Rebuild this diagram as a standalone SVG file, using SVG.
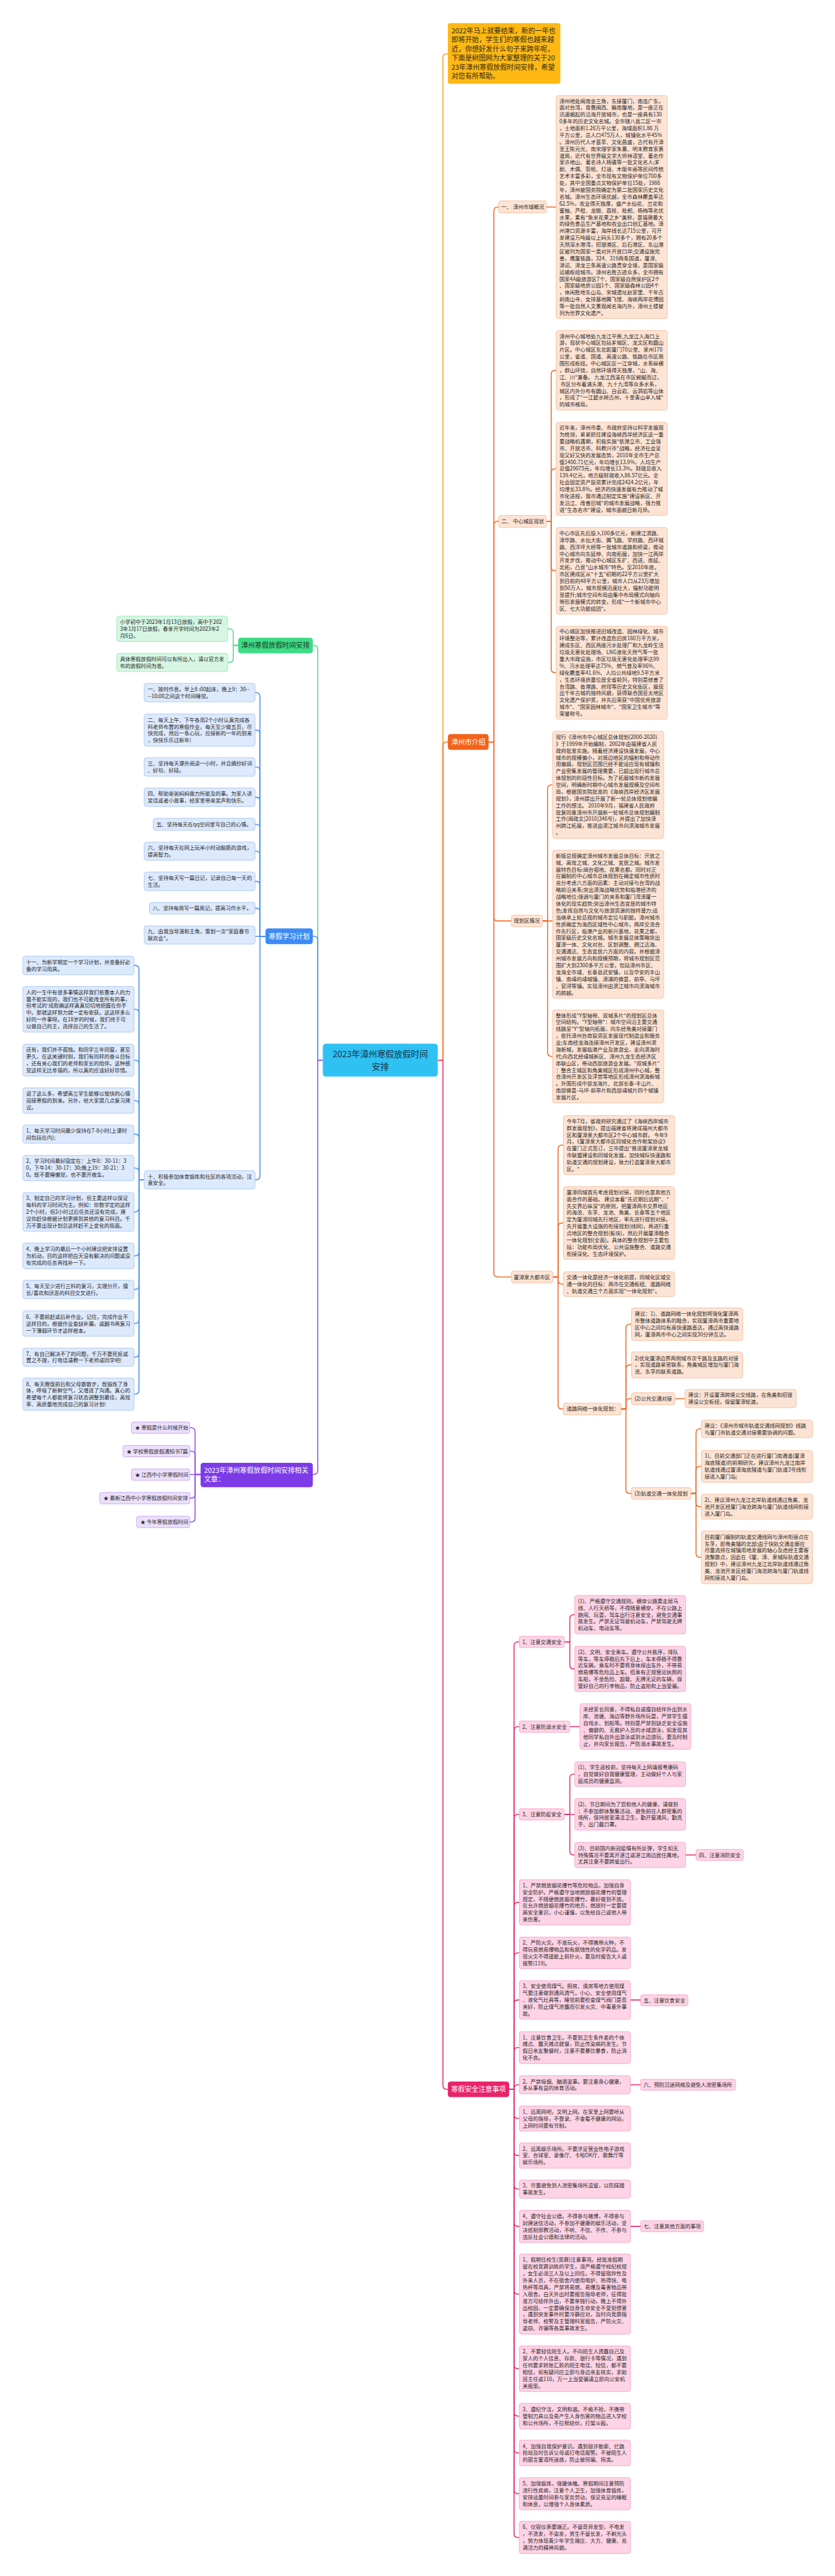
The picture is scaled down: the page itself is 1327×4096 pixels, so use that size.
<svg xmlns="http://www.w3.org/2000/svg" width="1327" height="4096" viewBox="0 0 1327 4096">
<style>
text{font-family:"Noto Sans CJK SC","Liberation Sans",sans-serif;}
.bt{font-size:16px;fill:#262626}
.nt{font-size:16px;fill:#262626}
.wt{font-size:21px;fill:#ffffff}
.bo{fill:#fde3d4;stroke:#f6b591;stroke-width:1.5}
.bp{fill:#fdd3e5;stroke:#f29bc0;stroke-width:1.5}
.bg{fill:#d6f6e3;stroke:#8fe6b2;stroke-width:1.5}
.bb{fill:#dde9fc;stroke:#9cc0f5;stroke-width:1.5}
.bv{fill:#ecdffc;stroke:#bb96f2;stroke-width:1.5}
path{fill:none;stroke-width:3;stroke-linecap:round}
.lA{stroke:#f2a41c}
.lO{stroke:#ee6b25}
.lP{stroke:#e52a6f}
.lG{stroke:#52d88c}
.lB{stroke:#4b8ff0}
.lV{stroke:#8f4bec}
</style>
<rect x="0" y="0" width="1327" height="4096" fill="#ffffff"/>
<g transform="scale(0.51836)">
<g id="connectors">
<path class="lA" d="M1342 3252H1358V177Q1358 165 1370 165H1373"/>
<path class="lO" d="M1342 3252H1358V2288Q1358 2276 1370 2276H1373"/>
<path class="lP" d="M1342 3252H1358V6397Q1358 6409 1370 6409H1373"/>
<path class="lG" d="M990 3252H974V1992Q974 1980 962 1980H959"/>
<path class="lB" d="M990 3252H974V2884Q974 2872 962 2872H959"/>
<path class="lV" d="M990 3252H974V4511Q974 4523 962 4523H959"/>
<path class="lO" d="M1498 2276H1514V647Q1514 635 1526 635H1529"/>
<path class="lO" d="M1498 2276H1514V1611Q1514 1599 1526 1599H1529"/>
<path class="lO" d="M1498 2276H1514V2813Q1514 2825 1526 2825H1568"/>
<path class="lO" d="M1498 2276H1514V3905Q1514 3917 1526 3917H1568"/>
<path class="lO" d="M1675 635H1705"/>
<path class="lO" d="M1675 1599H1690V1148Q1690 1136 1702 1136H1705"/>
<path class="lO" d="M1675 1599H1690V1450Q1690 1438 1702 1438H1705"/>
<path class="lO" d="M1675 1599H1690V1739Q1690 1751 1702 1751H1705"/>
<path class="lO" d="M1675 1599H1690V2051.5Q1690 2063.5 1702 2063.5H1705"/>
<path class="lO" d="M1663 2825H1679V2419.5Q1679 2407.5 1691 2407.5H1694"/>
<path class="lO" d="M1663 2825H1694"/>
<path class="lO" d="M1663 2825H1679V3228.5Q1679 3240.5 1691 3240.5H1694"/>
<path class="lO" d="M1695 3917H1711V3524.5Q1711 3512.5 1723 3512.5H1727"/>
<path class="lO" d="M1695 3917H1711V3763.5Q1711 3751.5 1723 3751.5H1727"/>
<path class="lO" d="M1695 3917H1711V3927Q1711 3939 1723 3939H1727"/>
<path class="lO" d="M1695 3917H1711V4310Q1711 4322 1723 4322H1727"/>
<path class="lO" d="M1904 4322H1919V4074Q1919 4062 1931 4062H1936"/>
<path class="lO" d="M1904 4322H1919V4199Q1919 4187 1931 4187H1936"/>
<path class="lO" d="M1904 4322H1919V4302.5Q1919 4290.5 1931 4290.5H1936"/>
<path class="lO" d="M1904 4322H1919V4569Q1919 4581 1931 4581H1936"/>
<path class="lO" d="M2069 4290.5H2100"/>
<path class="lO" d="M2118 4581H2134V4395Q2134 4383 2146 4383H2150"/>
<path class="lO" d="M2118 4581H2134V4510Q2134 4498 2146 4498H2150"/>
<path class="lO" d="M2118 4581H2134V4609.5Q2134 4621.5 2146 4621.5H2150"/>
<path class="lO" d="M2118 4581H2134V4765Q2134 4777 2146 4777H2150"/>
<path class="lP" d="M1561 6409H1576V5048.5Q1576 5036.5 1588 5036.5H1592"/>
<path class="lP" d="M1561 6409H1576V5308.5Q1576 5296.5 1588 5296.5H1592"/>
<path class="lP" d="M1561 6409H1576V5577.5Q1576 5565.5 1588 5565.5H1592"/>
<path class="lP" d="M1561 6409H1576V5847.5Q1576 5835.5 1588 5835.5H1592"/>
<path class="lP" d="M1561 6409H1576V6002.5Q1576 5990.5 1588 5990.5H1592"/>
<path class="lP" d="M1561 6409H1576V6147Q1576 6135 1588 6135H1592"/>
<path class="lP" d="M1561 6409H1576V6293Q1576 6281 1588 6281H1592"/>
<path class="lP" d="M1561 6409H1576V6407Q1576 6395 1588 6395H1592"/>
<path class="lP" d="M1561 6409H1576V6486.5Q1576 6498.5 1588 6498.5H1592"/>
<path class="lP" d="M1561 6409H1576V6600Q1576 6612 1588 6612H1592"/>
<path class="lP" d="M1561 6409H1576V6703Q1576 6715 1588 6715H1592"/>
<path class="lP" d="M1561 6409H1576V6817.5Q1576 6829.5 1588 6829.5H1592"/>
<path class="lP" d="M1561 6409H1576V7025Q1576 7037 1588 7037H1592"/>
<path class="lP" d="M1561 6409H1576V7254Q1576 7266 1588 7266H1592"/>
<path class="lP" d="M1561 6409H1576V7399.5Q1576 7411.5 1588 7411.5H1592"/>
<path class="lP" d="M1561 6409H1576V7512.5Q1576 7524.5 1588 7524.5H1592"/>
<path class="lP" d="M1561 6409H1576V7637.5Q1576 7649.5 1588 7649.5H1592"/>
<path class="lP" d="M1561 6409H1576V7771.5Q1576 7783.5 1588 7783.5H1592"/>
<path class="lP" d="M1730 5036.5H1747V4965Q1747 4953 1759 4953H1762"/>
<path class="lP" d="M1730 5036.5H1747V5107.5Q1747 5119.5 1759 5119.5H1762"/>
<path class="lP" d="M1747 5296.5H1778"/>
<path class="lP" d="M1730 5565.5H1747V5454Q1747 5442 1759 5442H1762"/>
<path class="lP" d="M1730 5565.5H1762"/>
<path class="lP" d="M1730 5565.5H1747V5678Q1747 5690 1759 5690H1762"/>
<path class="lP" d="M2102 5690H2134"/>
<path class="lP" d="M1933 6135H1964"/>
<path class="lP" d="M1933 6395H1964"/>
<path class="lP" d="M1933 6829.5H1964"/>
<path class="lG" d="M730 1980H715V1941Q715 1929 703 1929H698"/>
<path class="lG" d="M730 1980H715V2020Q715 2032 703 2032H698"/>
<path class="lB" d="M814 2872H797V2136.5Q797 2124.5 785 2124.5H782"/>
<path class="lB" d="M814 2872H797V2251.5Q797 2239.5 785 2239.5H782"/>
<path class="lB" d="M814 2872H797V2364.5Q797 2352.5 785 2352.5H782"/>
<path class="lB" d="M814 2872H797V2457.5Q797 2445.5 785 2445.5H782"/>
<path class="lB" d="M814 2872H797V2540.5Q797 2528.5 785 2528.5H782"/>
<path class="lB" d="M814 2872H797V2623Q797 2611 785 2611H782"/>
<path class="lB" d="M814 2872H797V2715.5Q797 2703.5 785 2703.5H782"/>
<path class="lB" d="M814 2872H797V2798Q797 2786 785 2786H782"/>
<path class="lB" d="M814 2872H782"/>
<path class="lB" d="M814 2872H797V3607Q797 3619 785 3619H782"/>
<path class="lB" d="M442 3619H426V2973.5Q426 2961.5 414 2961.5H411"/>
<path class="lB" d="M442 3619H426V3108Q426 3096 414 3096H411"/>
<path class="lB" d="M442 3619H426V3264Q426 3252 414 3252H411"/>
<path class="lB" d="M442 3619H426V3388Q426 3376 414 3376H411"/>
<path class="lB" d="M442 3619H426V3491Q426 3479 414 3479H411"/>
<path class="lB" d="M442 3619H426V3595Q426 3583 414 3583H411"/>
<path class="lB" d="M442 3619H426V3705.5Q426 3717.5 414 3717.5H411"/>
<path class="lB" d="M442 3619H426V3840.5Q426 3852.5 414 3852.5H411"/>
<path class="lB" d="M442 3619H426V3943.5Q426 3955.5 414 3955.5H411"/>
<path class="lB" d="M442 3619H426V4048Q426 4060 414 4060H411"/>
<path class="lB" d="M442 3619H426V4151Q426 4163 414 4163H411"/>
<path class="lB" d="M442 3619H426V4264.5Q426 4276.5 414 4276.5H411"/>
<path class="lV" d="M615 4523H598V4391.5Q598 4379.5 586 4379.5H582"/>
<path class="lV" d="M615 4523H598V4463.5Q598 4451.5 586 4451.5H582"/>
<path class="lV" d="M615 4523H582"/>
<path class="lV" d="M615 4523H598V4583.5Q598 4595.5 586 4595.5H582"/>
<path class="lV" d="M615 4523H598V4656.5Q598 4668.5 586 4668.5H582"/>
</g>

<g id="central">
<rect x="990" y="3202" width="352" height="100" rx="9" fill="#2fc1f2" stroke="#6fd6f7" stroke-width="2"/>
<text x="1166" y="3242.5" font-size="26" fill="#15324a" text-anchor="middle">2023年漳州寒假放假时间</text>
<text x="1166" y="3281.5" font-size="26" fill="#15324a" text-anchor="middle">安排</text>
</g>

<g id="intro">
<rect x="1373" y="71" width="345" height="186" rx="7" fill="#fdb813"/>
<text font-size="21" fill="#2f2a1a"><tspan x="1384" y="101.5">2022年马上就要结束，新的一年也</tspan><tspan x="1384" dy="28">即将开始，学生们的寒假也越来越</tspan><tspan x="1384" dy="28">近，你想好发什么句子来跨年呢，</tspan><tspan x="1384" dy="28">下面是树图网为大家整理的关于20</tspan><tspan x="1384" dy="28">23年漳州寒假放假时间安排，希望</tspan><tspan x="1384" dy="28">对您有所帮助。</tspan></text>
</g>

<g id="zz-intro">
<rect x="1373" y="2252" width="125" height="48" rx="8" fill="#f4621b"/>
<text class="wt" x="1435.5" y="2283.5" text-anchor="middle">漳州市介绍</text>
</g>

<g id="zz-1">
<rect class="bo" x="1529" y="616" width="146" height="37" rx="6"/>
<text class="nt" x="1537" y="641">一、 漳州市域概况</text>
</g>
<g id="zz-1-t">
<rect class="bo" x="1705" y="293" width="341" height="684" rx="7"/>
<text class="bt"><tspan x="1715" y="315.5">漳州地处闽南金三角，东接厦门，南连广东，</tspan><tspan x="1715" dy="21">面对台湾，背靠闽西、赣南腹地，是一座正在</tspan><tspan x="1715" dy="21">迅速崛起的沿海开放城市，也是一座具有130</tspan><tspan x="1715" dy="21">0多年的历史文化名城。全市辖八县二区一市</tspan><tspan x="1715" dy="21">，土地面积1.26万平公里，海域面积1.86 万</tspan><tspan x="1715" dy="21">平方公里，总人口475万人，城镇化水平45%</tspan><tspan x="1715" dy="21">。漳州历代人才荟萃、文化昌盛，古代有开漳</tspan><tspan x="1715" dy="21">圣王陈元光、南宋理学家朱熹、明末教育家黄</tspan><tspan x="1715" dy="21">道周，近代有世界级文学大师林语堂、著名作</tspan><tspan x="1715" dy="21">家许地山、著名诗人杨骚等一批文化名人;芗</tspan><tspan x="1715" dy="21">剧、木偶、剪纸、灯谜、木版年画等民间传统</tspan><tspan x="1715" dy="21">艺术丰富多彩，全市现有文物保护单位700多</tspan><tspan x="1715" dy="21">处，其中全国重点文物保护单位15处，1986</tspan><tspan x="1715" dy="21">年，漳州被国务院确定为第二批国家历史文化</tspan><tspan x="1715" dy="21">名城。漳州生态环境优越，全市森林覆盖率达</tspan><tspan x="1715" dy="21">62.5%，农业得天独厚，盛产水仙花、兰花和</tspan><tspan x="1715" dy="21">蜜柚、芦柑、龙眼、荔枝、枇杷、杨梅等名优</tspan><tspan x="1715" dy="21">水果，素有"鱼米花果之乡"美称，是福建最大</tspan><tspan x="1715" dy="21">的绿色食品生产基地和农业出口创汇基地。漳</tspan><tspan x="1715" dy="21">州港口资源丰富，海岸线长达715公里，可开</tspan><tspan x="1715" dy="21">发建设万吨级以上码头130多个，拥有20多个</tspan><tspan x="1715" dy="21">天然深水港湾，招银港区、后石港区、东山港</tspan><tspan x="1715" dy="21">区被列为国家一类对外开放口岸;交通设施完</tspan><tspan x="1715" dy="21">善，鹰厦铁路，324、319两条国道，厦漳、</tspan><tspan x="1715" dy="21">漳诏、漳龙三条高速公路贯穿全境，是国家级</tspan><tspan x="1715" dy="21">运输枢纽城市。漳州名胜古迹众多，全市拥有</tspan><tspan x="1715" dy="21">国家4A级旅游区7个、国家级自然保护区2个</tspan><tspan x="1715" dy="21">、国家级地质公园1个、国家级森林公园4个</tspan><tspan x="1715" dy="21">，休闲胜地东山岛、宋城遗址赵家堡、千年古</tspan><tspan x="1715" dy="21">刹南山寺、女排基地腾飞馆、海峡两岸花博园</tspan><tspan x="1715" dy="21">等一批自然人文景观闻名海内外，漳州土楼被</tspan><tspan x="1715" dy="21">列为世界文化遗产。</tspan></text>
</g>

<g id="zz-2">
<rect class="bo" x="1529" y="1581" width="146" height="37" rx="6"/>
<text class="nt" x="1537" y="1605">二、 中心城区现状</text>
</g>
<g id="zz-2-a">
<rect class="bo" x="1705" y="1014" width="341" height="244" rx="7"/>
<text class="bt"><tspan x="1715" y="1037">漳州中心城地处九龙江平原,九龙江入海口上</tspan><tspan x="1715" dy="21">游，现状中心城区包括芗城区、龙文区和圆山</tspan><tspan x="1715" dy="21">片区。中心城区东北距厦门70公里、泉州170</tspan><tspan x="1715" dy="21">公里，省道、国道、高速公路、铁路在市区周</tspan><tspan x="1715" dy="21">围形成枢纽。中心城区区一江穿城，水系纵横</tspan><tspan x="1715" dy="21">，群山环绕，自然环境得天独厚，"山、海、</tspan><tspan x="1715" dy="21">江、川"兼备。 九龙江西溪在市区蜿蜒而过，</tspan><tspan x="1715" dy="21"> 市区分布着浦头港、九十九湾等众多水系，</tspan><tspan x="1715" dy="21">城区内外分布有圆山、白云岩、云洞岩等山体</tspan><tspan x="1715" dy="21">，形成了"一江碧水映古州，十里青山半入城"</tspan><tspan x="1715" dy="21">的城市格局。</tspan></text>
</g>
<g id="zz-2-b">
<rect class="bo" x="1705" y="1295" width="341" height="286" rx="7"/>
<text class="bt"><tspan x="1715" y="1318">近年来，漳州市委、市政府坚持以科学发展观</tspan><tspan x="1715" dy="21">为统领，紧紧抓住建设海峡西岸经济区这一重</tspan><tspan x="1715" dy="21">要战略机遇期，积极实施"依港立市、工业强</tspan><tspan x="1715" dy="21">市、开放活市、科教兴市"战略，经济社会呈</tspan><tspan x="1715" dy="21">现又好又快的发展态势，2010年全市生产总</tspan><tspan x="1715" dy="21">值1400.71亿元，年均增长13.9%，人均生产</tspan><tspan x="1715" dy="21">总值29075元，年均增长13.3%。财政总收入</tspan><tspan x="1715" dy="21">139.4亿元，地方级财政收入88.57亿元。全</tspan><tspan x="1715" dy="21">社会固定资产投资累计完成2424.2亿元，年</tspan><tspan x="1715" dy="21">均增长33.8%。经济的快速发展有力推动了城</tspan><tspan x="1715" dy="21">市化进程，我市通过制定实施"建设新区、开</tspan><tspan x="1715" dy="21">发沿江、改善旧城"的城市发展战略，强力推</tspan><tspan x="1715" dy="21">进"生态名市"建设，城市面貌日新月异。</tspan></text>
</g>
<g id="zz-2-c">
<rect class="bo" x="1705" y="1618" width="341" height="266" rx="7"/>
<text class="bt"><tspan x="1715" y="1641.5">中心市区先后投入100多亿元，新建江滨路、</tspan><tspan x="1715" dy="21">漳华路、水仙大街、腾飞路、学府路、西环城</tspan><tspan x="1715" dy="21">路、西洋坪大桥等一批城市道路和桥梁，推动</tspan><tspan x="1715" dy="21">中心城市向东延伸、向南拓展，加快一江两岸</tspan><tspan x="1715" dy="21">开发步伐，推动中心城区东扩、西进、南延、</tspan><tspan x="1715" dy="21">北拓，凸显"山水城市"特色。至2010年底，</tspan><tspan x="1715" dy="21">市区建成区从"十五"初期的22平方公里扩大</tspan><tspan x="1715" dy="21">到目前的48平方公里，城市人口从23万增加</tspan><tspan x="1715" dy="21">到50万人，城市规模迅速壮大，辐射功能明</tspan><tspan x="1715" dy="21">显提升;城市空间布局由集中布局模式向轴向</tspan><tspan x="1715" dy="21">带形发展模式的转变，形成"一个新城市中心</tspan><tspan x="1715" dy="21">区、七大功能组团"。</tspan></text>
</g>
<g id="zz-2-d">
<rect class="bo" x="1705" y="1921" width="341" height="285" rx="7"/>
<text class="bt"><tspan x="1715" y="1943.5">中心城区加快推进旧城改造、园林绿化、城市</tspan><tspan x="1715" dy="21">环境整治等，累计改造危旧房180万平方米，</tspan><tspan x="1715" dy="21">建成东区、西区两座污水处理厂和九龙岭生活</tspan><tspan x="1715" dy="21">垃圾无害化处理场、LNG液化天然气等一批</tspan><tspan x="1715" dy="21">重大市政设施，市区垃圾无害化处理率达99</tspan><tspan x="1715" dy="21">%、污水处理率达75%、燃气普及率96%、</tspan><tspan x="1715" dy="21">绿化覆盖率41.6%、人均公共绿地9.5平方米</tspan><tspan x="1715" dy="21">，生态环境质量位居全省前列，特别是修善了</tspan><tspan x="1715" dy="21">台湾路、香港路、府埕等历史文化街区，展现</tspan><tspan x="1715" dy="21">出千年古城的独特风貌，获得联合国亚太地区</tspan><tspan x="1715" dy="21">文化遗产保护奖，并先后荣获"中国优秀旅游</tspan><tspan x="1715" dy="21">城市"、"国家园林城市"、"国家卫生城市"等</tspan><tspan x="1715" dy="21">荣誉称号。</tspan></text>
</g>

<g id="zz-3">
<rect class="bo" x="1568" y="2807" width="95" height="36" rx="6"/>
<text class="nt" x="1575" y="2831">规划区情况</text>
</g>
<g id="zz-3-a">
<rect class="bo" x="1694" y="2243" width="341" height="329" rx="7"/>
<text class="bt"><tspan x="1704" y="2266.5">现行《漳州市中心城区总体规划(2000-2020)</tspan><tspan x="1704" dy="21">》于1999年开始编制，2002年由福建省人民</tspan><tspan x="1704" dy="21">政府批准实施。随着经济建设快速发展，中心</tspan><tspan x="1704" dy="21">城市的规模偏小，对周边地区的辐射和带动作</tspan><tspan x="1704" dy="21">用偏弱，规划区范围已经不能适应现有城镇和</tspan><tspan x="1704" dy="21">产业密集发展的管理需要，已超出现行城市总</tspan><tspan x="1704" dy="21">体规划的阶段性目标。为了拓展城市新的发展</tspan><tspan x="1704" dy="21">空间，明确新时期中心城市发展规模及空间布</tspan><tspan x="1704" dy="21">局，根据国务院批准的《海峡西岸经济区发展</tspan><tspan x="1704" dy="21">规划》，漳州提出开展了新一轮总体规划修编</tspan><tspan x="1704" dy="21">工作的想法。 2010年9月，福建省人民政府</tspan><tspan x="1704" dy="21">批复同意漳州市开展新一轮城市总体规划编制</tspan><tspan x="1704" dy="21">工作(闽政文[2010]346号)，并提出了加快漳</tspan><tspan x="1704" dy="21">州跨江拓展，推进由滨江城市向滨海城市发展</tspan><tspan x="1704" dy="21">。</tspan></text>
</g>
<g id="zz-3-b">
<rect class="bo" x="1694" y="2608" width="341" height="454" rx="7"/>
<text class="bt"><tspan x="1704" y="2631">新版总规确定漳州城市发展总体目标：开放之</tspan><tspan x="1704" dy="21">城、高效之城、文化之城、宜居之城。城市发</tspan><tspan x="1704" dy="21">展特色目标:闽台祖地、花果名都。同时对正</tspan><tspan x="1704" dy="21">在编制的中心城市总体规划在确定城市性质时</tspan><tspan x="1704" dy="21">充分考虑六方面的因素：主动对接与台湾的战</tspan><tspan x="1704" dy="21">略前沿关系;突出滨海战略优势和临港经济的</tspan><tspan x="1704" dy="21">战略地位;强调与厦门的关系和厦门湾漳厦一</tspan><tspan x="1704" dy="21">体化的现实趋势;突出漳州生态宜居的城市特</tspan><tspan x="1704" dy="21">色;发挥自然与文化与旅游资源的独特潜力;适</tspan><tspan x="1704" dy="21">当继承上轮总规的城市定位与职能。漳州城市</tspan><tspan x="1704" dy="21">性质确定为海西区域性中心城市，两岸交流合</tspan><tspan x="1704" dy="21">作先行区，临港产业的新兴基地，花果之都，</tspan><tspan x="1704" dy="21">国家级历史文化名城。城市发展总体策略突出</tspan><tspan x="1704" dy="21">厦漳一体、文化对台、区划调整、拥江达海、</tspan><tspan x="1704" dy="21">交通通达、生态宜居六方面的内容。并根据漳</tspan><tspan x="1704" dy="21">州城市发展方向和规模预期，将城市规划区范</tspan><tspan x="1704" dy="21">围扩大到2300多平方公里，包括漳州市区、</tspan><tspan x="1704" dy="21">龙海全市域、长泰县武安镇，以及华安的丰山</tspan><tspan x="1704" dy="21">镇、南靖的靖城镇、漳浦的佛昙、前亭、马坪</tspan><tspan x="1704" dy="21">、官浔等镇。实现漳州由滨江城市向滨海城市</tspan><tspan x="1704" dy="21">的跨越。</tspan></text>
</g>
<g id="zz-3-c">
<rect class="bo" x="1694" y="3098" width="341" height="285" rx="7"/>
<text class="bt"><tspan x="1704" y="3120.5">整体形成"Y型轴带、双城多片"的规划区总体</tspan><tspan x="1704" dy="21">空间结构。"Y型轴带"：城市空间沿主要交通</tspan><tspan x="1704" dy="21">线路呈"Y"型轴向拓展，向东经角美对接厦门</tspan><tspan x="1704" dy="21">，依托漳州台商投资区发展现代制造业和服务</tspan><tspan x="1704" dy="21">业;东南经龙海连接漳州开发区，建设漳州滨</tspan><tspan x="1704" dy="21">海新城，发展临港产业及旅游业，走向滨海时</tspan><tspan x="1704" dy="21">代;向西北经靖城新区、漳州九龙生态经济区</tspan><tspan x="1704" dy="21">串联山区，带动西部旅游业发展。"双城多片"</tspan><tspan x="1704" dy="21">：整合主城区和角美城区形成漳州中心城，整</tspan><tspan x="1704" dy="21">合漳州开发区及浮宫等地区形成漳州滨海新城</tspan><tspan x="1704" dy="21">。外围形成中部龙海片、北部长泰-丰山片、</tspan><tspan x="1704" dy="21">南部佛昙-马坪-前亭片和西部靖城片四个城镇</tspan><tspan x="1704" dy="21">发展片区。</tspan></text>
</g>

<g id="zz-4">
<rect class="bo" x="1568" y="3899" width="127" height="36" rx="6"/>
<text class="nt" x="1575" y="3923">厦漳泉大都市区</text>
</g>
<g id="zz-4-a">
<rect class="bo" x="1727" y="3422" width="341" height="181" rx="7"/>
<text class="bt"><tspan x="1737" y="3445">今年7月，省政府研究通过了《海峡西岸城市</tspan><tspan x="1737" dy="21">群发展规划》，提出福建省将建成福州大都市</tspan><tspan x="1737" dy="21">区和厦漳泉大都市区2个中心城市群。 今年9</tspan><tspan x="1737" dy="21">月，《厦漳泉大都市区同城化合作框架协议》</tspan><tspan x="1737" dy="21">在厦门正式签订，三市提出"推进厦漳泉龙城</tspan><tspan x="1737" dy="21">市联盟建设和同城化发展，加快城际快速路和</tspan><tspan x="1737" dy="21">轨道交通的规划建设，致力打造厦漳泉大都市</tspan><tspan x="1737" dy="21">区。"</tspan></text>
</g>
<g id="zz-4-b">
<rect class="bo" x="1727" y="3640" width="341" height="223" rx="7"/>
<text class="bt"><tspan x="1737" y="3663">厦漳同城首先考虑规划对接，同时也是其他方</tspan><tspan x="1737" dy="21">面合作的基础。 建议本着"先近期后远期"、"</tspan><tspan x="1737" dy="21">先交界后纵深"的原则，把厦漳两市交界地区</tspan><tspan x="1737" dy="21">的海沧、东孚、龙池、角美、长泰等五个地区</tspan><tspan x="1737" dy="21">定为厦漳同城先行地区，率先进行规划对接。</tspan><tspan x="1737" dy="21">先开展重大设施的衔接规划(线网)，再进行重</tspan><tspan x="1737" dy="21">点地区的整合规划(板块)，然后开展厦漳融合</tspan><tspan x="1737" dy="21">一体化规划(全面)。具体的整合规划中主要包</tspan><tspan x="1737" dy="21">括：功能布局优化、公共设施整合、道路交通</tspan><tspan x="1737" dy="21">衔接深化、生态环境保护。</tspan></text>
</g>
<g id="zz-4-c">
<rect class="bo" x="1727" y="3901" width="341" height="76" rx="7"/>
<text class="bt"><tspan x="1737" y="3924">交通一体化是经济一体化前提，同城化区域交</tspan><tspan x="1737" dy="21">通一体化的目标：两市在交通枢纽、道路网络</tspan><tspan x="1737" dy="21">、轨道交通三个方面实现"一体化规划"。</tspan></text>
</g>
<g id="zz-4-d">
<rect class="bo" x="1727" y="4304" width="177" height="36" rx="6"/>
<text class="nt" x="1737" y="4328">道路网络一体化规划：</text>
</g>
<g id="zz-4-d1">
<rect class="bo" x="1936" y="4012" width="341" height="100" rx="7"/>
<text class="bt"><tspan x="1946" y="4036.5">建议：1)、道路网络一体化规划将强化厦漳两</tspan><tspan x="1946" dy="21">市整体道路体系的融合，实现厦漳两市重要地</tspan><tspan x="1946" dy="21">区中心之间均有高快速路直达，通过高快速路</tspan><tspan x="1946" dy="21">网，厦漳两市中心之间实现30分钟互达。</tspan></text>
</g>
<g id="zz-4-d2">
<rect class="bo" x="1936" y="4147" width="341" height="80" rx="7"/>
<text class="bt"><tspan x="1946" y="4172">2)优化厦漳边界两侧城市次干路及支路的对接</tspan><tspan x="1946" dy="21">，实现道路紧密联系，角美城区增加与厦门海</tspan><tspan x="1946" dy="21">沧、东孚的联系道路。</tspan></text>
</g>
<g id="zz-4-d3">
<rect class="bo" x="1936" y="4272" width="133" height="37" rx="6"/>
<text class="nt" x="1945" y="4296.5">(2)公共交通对接</text>
</g>
<g id="zz-4-d3a">
<rect class="bo" x="2100" y="4262" width="341" height="56" rx="7"/>
<text class="bt"><tspan x="2110" y="4285.5">建议：开设厦漳跨境公交线路，在角美和招银</tspan><tspan x="2110" dy="21">建设公交枢纽，保留厦漳轮渡。</tspan></text>
</g>
<g id="zz-4-d4">
<rect class="bo" x="1936" y="4563" width="182" height="36" rx="6"/>
<text class="nt" x="1945" y="4587">(3)轨道交通一体化规划</text>
</g>
<g id="zz-4-d4a">
<rect class="bo" x="2150" y="4356" width="341" height="54" rx="7"/>
<text class="bt"><tspan x="2160" y="4378.5">建议：《漳州市城市轨道交通线网规划》线路</tspan><tspan x="2160" dy="21">与厦门市轨道交通对接需要协调的问题。</tspan></text>
</g>
<g id="zz-4-d4b">
<rect class="bo" x="2150" y="4449" width="341" height="98" rx="7"/>
<text class="bt"><tspan x="2160" y="4472.5">1)、目前交通部门正在进行厦门南通道(厦漳</tspan><tspan x="2160" dy="21">海底隧道)的前期研究，建议漳州九龙江南岸</tspan><tspan x="2160" dy="21">轨道线通过厦漳海底隧道与厦门轨道3号线衔</tspan><tspan x="2160" dy="21">接进入厦门岛;</tspan></text>
</g>
<g id="zz-4-d4c">
<rect class="bo" x="2150" y="4583" width="341" height="77" rx="7"/>
<text class="bt"><tspan x="2160" y="4606.5">2)、建议漳州九龙江北岸轨道线通过角美、龙</tspan><tspan x="2160" dy="21">池开发区经厦门海沧跨海与厦门轨道线网衔接</tspan><tspan x="2160" dy="21">进入厦门岛。</tspan></text>
</g>
<g id="zz-4-d4d">
<rect class="bo" x="2150" y="4696" width="341" height="162" rx="7"/>
<text class="bt"><tspan x="2160" y="4720">目前厦门编制的轨道交通线网与漳州衔接点在</tspan><tspan x="2160" dy="21">东孚，即角美镇的北部;由于快轨交通走廊应</tspan><tspan x="2160" dy="21">尽量选择在城镇用地发展的轴心及途经主要客</tspan><tspan x="2160" dy="21">流聚散点，因此在《厦、漳、泉城际轨道交通</tspan><tspan x="2160" dy="21">规划》中，建议漳州九龙江北岸轨道线通过角</tspan><tspan x="2160" dy="21">美、龙池开发区经厦门海沧跨海与厦门轨道线</tspan><tspan x="2160" dy="21">网衔接进入厦门岛。</tspan></text>
</g>

<g id="safety">
<rect x="1373" y="6385" width="188" height="48" rx="8" fill="#e8246b"/>
<text class="wt" x="1467" y="6416.5" text-anchor="middle">寒假安全注意事项</text>
</g>
<g id="sf-1">
<rect class="bp" x="1592" y="5019" width="138" height="35" rx="6"/>
<text class="nt" x="1601" y="5042.5">1、注意交通安全</text>
</g>
<g id="sf-1a">
<rect class="bp" x="1762" y="4894" width="340" height="118" rx="7"/>
<text class="bt"><tspan x="1772" y="4917">(1)、严格遵守交通规则。横穿公路要走斑马</tspan><tspan x="1772" dy="21">线、人行天桥等，不得随意横穿，不在公路上</tspan><tspan x="1772" dy="21">跑闹、玩耍，驾车出行注意安全，避免交通事</tspan><tspan x="1772" dy="21">故发生。严禁无证驾驶机动车，严禁驾驶无牌</tspan><tspan x="1772" dy="21">机动车、电动车等。</tspan></text>
</g>
<g id="sf-1b">
<rect class="bp" x="1762" y="5050" width="340" height="139" rx="7"/>
<text class="bt"><tspan x="1772" y="5073">(2)、文明、安全乘车。遵守公共秩序，排队</tspan><tspan x="1772" dy="21">等车，等车停稳后先下后上，车未停稳不得靠</tspan><tspan x="1772" dy="21">近车辆。乘车时不要将身体探出车外，不带易</tspan><tspan x="1772" dy="21">燃易爆等危险品上车。搭乘有正规营运执照的</tspan><tspan x="1772" dy="21">车船，不坐危险、超载、无牌无证的车辆，保</tspan><tspan x="1772" dy="21">管好自己的行李物品，防止盗抢和上当受骗。</tspan></text>
</g>
<g id="sf-2">
<rect class="bp" x="1592" y="5279" width="155" height="35" rx="6"/>
<text class="nt" x="1601" y="5302.5">2、注意防溺水安全</text>
</g>
<g id="sf-2a">
<rect class="bp" x="1778" y="5226" width="340" height="140" rx="7"/>
<text class="bt"><tspan x="1788" y="5249.5">未经家长同意，不得私自或擅自结伴外出到水</tspan><tspan x="1788" dy="21">库、池塘、海边等野外场所玩耍，严禁学生擅</tspan><tspan x="1788" dy="21">自戏水、划船等。特别是严禁到缺乏安全设施</tspan><tspan x="1788" dy="21">、偏僻的、无救护人员的水域游泳，如发现其</tspan><tspan x="1788" dy="21">他同学私自外出游泳或到水边游玩，要及时制</tspan><tspan x="1788" dy="21">止，并向家长报告，严防溺水事故发生。</tspan></text>
</g>
<g id="sf-3">
<rect class="bp" x="1592" y="5548" width="138" height="35" rx="6"/>
<text class="nt" x="1601" y="5571.5">3、注意防疫安全</text>
</g>
<g id="sf-3a">
<rect class="bp" x="1762" y="5404" width="340" height="76" rx="7"/>
<text class="bt"><tspan x="1772" y="5427">(1)、学生返校前，坚持每天上网填报粤康码</tspan><tspan x="1772" dy="21">，自觉做好自我健康管理，主动做好个人与家</tspan><tspan x="1772" dy="21">庭成员的健康监测。</tspan></text>
</g>
<g id="sf-3b">
<rect class="bp" x="1762" y="5517" width="340" height="97" rx="7"/>
<text class="bt"><tspan x="1772" y="5540">(2)、节日期间为了您和他人的健康，请做到</tspan><tspan x="1772" dy="21">：不参加群体聚集活动、避免前往人群密集的</tspan><tspan x="1772" dy="21">场所，保持居室清洁卫生，勤开窗通风，勤洗</tspan><tspan x="1772" dy="21">手、出门戴口罩。</tspan></text>
</g>
<g id="sf-3c">
<rect class="bp" x="1762" y="5651" width="340" height="78" rx="7"/>
<text class="bt"><tspan x="1772" y="5675">(3)、目前国内新冠疫情有所反弹，学生如无</tspan><tspan x="1772" dy="21">特殊情况不要离开湛江或湛江周边居住属地，</tspan><tspan x="1772" dy="21">尤其注意不要跨省出行。</tspan></text>
</g>
<g id="sf-4">
<rect class="bp" x="2134" y="5673" width="145" height="34" rx="6"/>
<text class="nt" x="2143" y="5696">四、注意消防安全</text>
</g>
<g id="sf-f1">
<rect class="bp" x="1592" y="5766" width="341" height="139" rx="7"/>
<text class="bt"><tspan x="1602" y="5789">1、严禁燃放烟花爆竹等危险物品，加强自身</tspan><tspan x="1602" dy="21">安全防护。严格遵守当地燃放烟花爆竹的管理</tspan><tspan x="1602" dy="21">规定，不随便燃放烟花爆竹，最好做到不放。</tspan><tspan x="1602" dy="21">在允许燃放烟花爆竹的地方，燃放时一定要提</tspan><tspan x="1602" dy="21">高安全意识，小心谨慎，以免给自己或他人带</tspan><tspan x="1602" dy="21">来伤害。</tspan></text>
</g>
<g id="sf-f2">
<rect class="bp" x="1592" y="5942" width="341" height="97" rx="7"/>
<text class="bt"><tspan x="1602" y="5965">2、严防火灾。不准玩火，不得携带火种，不</tspan><tspan x="1602" dy="21">得玩易燃易爆物品和有腐蚀性的化学药品。发</tspan><tspan x="1602" dy="21">现火灾不得逞能上前扑火，要及时报告大人或</tspan><tspan x="1602" dy="21">报警(119)。</tspan></text>
</g>
<g id="sf-f3">
<rect class="bp" x="1592" y="6076" width="341" height="118" rx="7"/>
<text class="bt"><tspan x="1602" y="6099">3、安全使用煤气。厨房、澡房等地方使用煤</tspan><tspan x="1602" dy="21">气要注意做到通风透气，小心、安全使用煤气</tspan><tspan x="1602" dy="21">、液化气灶具等，睡觉前要检查煤气阀门是否</tspan><tspan x="1602" dy="21">关好，防止煤气泄露而引发火灾、中毒意外事</tspan><tspan x="1602" dy="21">故。</tspan></text>
</g>
<g id="sf-5">
<rect class="bp" x="1964" y="6119" width="145" height="34" rx="6"/>
<text class="nt" x="1973" y="6142">五、注意饮食安全</text>
</g>
<g id="sf-f4">
<rect class="bp" x="1592" y="6232" width="341" height="98" rx="7"/>
<text class="bt"><tspan x="1602" y="6255.5">1、注意饮食卫生。不要到卫生条件差的个体</tspan><tspan x="1602" dy="21">摊点、露天摊点就餐，防止传染病的发生。节</tspan><tspan x="1602" dy="21">假日亲友聚餐时，注意不要暴饮暴食，防止消</tspan><tspan x="1602" dy="21">化不良。</tspan></text>
</g>
<g id="sf-f5">
<rect class="bp" x="1592" y="6367" width="341" height="56" rx="7"/>
<text class="bt"><tspan x="1602" y="6390.5">2、严禁吸烟、酗酒滋事。要注意身心健康，</tspan><tspan x="1602" dy="21">多从事有益的体育活动。</tspan></text>
</g>
<g id="sf-6">
<rect class="bp" x="1964" y="6378" width="291" height="34" rx="6"/>
<text class="nt" x="1973" y="6401">六、预防沉迷网络及避免人流密集场所</text>
</g>
<g id="sf-f6">
<rect class="bp" x="1592" y="6460" width="341" height="77" rx="7"/>
<text class="bt"><tspan x="1602" y="6483.5">1、远离网吧，文明上网。在家里上网要听从</tspan><tspan x="1602" dy="21">父母的指导，不登录、不查看不健康的网站，</tspan><tspan x="1602" dy="21">上网时间要有节制。</tspan></text>
</g>
<g id="sf-f7">
<rect class="bp" x="1592" y="6573" width="341" height="78" rx="7"/>
<text class="bt"><tspan x="1602" y="6597">2、远离娱乐场所。不要涉足营业性电子游戏</tspan><tspan x="1602" dy="21">室、台球室、录像厅、卡啦OK厅、歌舞厅等</tspan><tspan x="1602" dy="21">娱乐场所。</tspan></text>
</g>
<g id="sf-f8">
<rect class="bp" x="1592" y="6687" width="341" height="56" rx="7"/>
<text class="bt"><tspan x="1602" y="6710.5">3、尽量避免到人流密集场所逗留，以防踩踏</tspan><tspan x="1602" dy="21">事故发生。</tspan></text>
</g>
<g id="sf-f9">
<rect class="bp" x="1592" y="6780" width="341" height="99" rx="7"/>
<text class="bt"><tspan x="1602" y="6804">4、遵守社会公德。不得参与赌博，不得参与</tspan><tspan x="1602" dy="21">封建迷信活动，不参加不健康的娱乐活动，坚</tspan><tspan x="1602" dy="21">决抵制邪教活动，不听、不信、不传、不参与</tspan><tspan x="1602" dy="21">违反社会公德和法律的活动。</tspan></text>
</g>
<g id="sf-7">
<rect class="bp" x="1964" y="6812" width="193" height="34" rx="6"/>
<text class="nt" x="1973" y="6835">七、注意其他方面的事项</text>
</g>
<g id="sf-f10">
<rect class="bp" x="1592" y="6914" width="341" height="246" rx="7"/>
<text class="bt"><tspan x="1602" y="6938">1、假期住校生(竞赛)注意事项。经批准假期</tspan><tspan x="1602" dy="21">留在校竞赛训练的学生，须严格遵守校纪校规</tspan><tspan x="1602" dy="21">，女生必须三人及以上同住。不得留宿异性及</tspan><tspan x="1602" dy="21">外来人员，不在宿舍内使用电炉、热得快、电</tspan><tspan x="1602" dy="21">热杯等用具，严禁将易燃、易爆及毒害物品带</tspan><tspan x="1602" dy="21">入宿舍。白天外出时要报告指导老师，征得批</tspan><tspan x="1602" dy="21">准方可结伴外出，不要单独行动，晚上不得外</tspan><tspan x="1602" dy="21">出校园，一定要确保自身生命安全不受到侵害</tspan><tspan x="1602" dy="21">，遇到突发事件时要冷静应对，及时向竞赛指</tspan><tspan x="1602" dy="21">导老师、校警及主管理科室报告，严防火灾、</tspan><tspan x="1602" dy="21">盗窃、诈骗等各类事故发生。</tspan></text>
</g>
<g id="sf-f11">
<rect class="bp" x="1592" y="7196" width="341" height="140" rx="7"/>
<text class="bt"><tspan x="1602" y="7219.5">2、不要轻信陌生人。不向陌生人透露自己及</tspan><tspan x="1602" dy="21">家人的个人信息、存款、银行卡等情况，遇到</tspan><tspan x="1602" dy="21">任何要求转账汇款的陌生电话、短信，都不要</tspan><tspan x="1602" dy="21">相信，如有疑问应立即与身边亲友核实，求助</tspan><tspan x="1602" dy="21">班主任或110，万一上当受骗请立即向公安机</tspan><tspan x="1602" dy="21">关报案。</tspan></text>
</g>
<g id="sf-f12">
<rect class="bp" x="1592" y="7372" width="341" height="79" rx="7"/>
<text class="bt"><tspan x="1602" y="7396.5">3、遵纪守法，文明和谐。不偷不抢，不携带</tspan><tspan x="1602" dy="21">管制刀具以及易产生人身伤害的物品进入学校</tspan><tspan x="1602" dy="21">和公共场所，不拉帮结伙，打架斗殴。</tspan></text>
</g>
<g id="sf-f13">
<rect class="bp" x="1592" y="7485" width="341" height="79" rx="7"/>
<text class="bt"><tspan x="1602" y="7509.5">4、加强自我保护意识。遇到敲诈勒索、拦路</tspan><tspan x="1602" dy="21">抢劫及时告诉父母或打电话报警。不被陌生人</tspan><tspan x="1602" dy="21">的甜言蜜语所迷惑，防止被拐骗、拐卖。</tspan></text>
</g>
<g id="sf-f14">
<rect class="bp" x="1592" y="7600" width="341" height="99" rx="7"/>
<text class="bt"><tspan x="1602" y="7624">5、加强锻炼，强健体魄。寒假期间注意预防</tspan><tspan x="1602" dy="21">流行性疾病，注意个人卫生，加强体育锻炼，</tspan><tspan x="1602" dy="21">安排适量时间参与家务劳动，保证充足的睡眠</tspan><tspan x="1602" dy="21">和休息，以增强个人身体素质。</tspan></text>
</g>
<g id="sf-f15">
<rect class="bp" x="1592" y="7734" width="341" height="99" rx="7"/>
<text class="bt"><tspan x="1602" y="7758">6、仪容仪表要端正。不留奇异发型，不电发</tspan><tspan x="1602" dy="21">，不烫发，不染发，男生不留长发，不剃光头</tspan><tspan x="1602" dy="21">，努力体现青少年学生端庄、大方、健康、充</tspan><tspan x="1602" dy="21">满活力的精神风貌。</tspan></text>
</g>

<g id="holiday">
<rect x="730" y="1956" width="229" height="48" rx="8" fill="#3fdc85"/>
<text x="844.5" y="1987.5" font-size="21" fill="#163a24" text-anchor="middle">漳州寒假放假时间安排</text>
</g>
<g id="holiday-1">
<rect class="bg" x="358" y="1890" width="340" height="78" rx="7"/>
<text class="bt"><tspan x="368" y="1914">小学初中于2023年1月13日放假，高中于202</tspan><tspan x="368" dy="21">3年1月17日放假，春季开学时间为2023年2</tspan><tspan x="368" dy="21">月6日。</tspan></text>
</g>
<g id="holiday-2">
<rect class="bg" x="358" y="2004" width="340" height="56" rx="7"/>
<text class="bt"><tspan x="368" y="2027.5">具体寒假放假时间可以有所出入，请以官方发</tspan><tspan x="368" dy="21">布的放假时间为准。</tspan></text>
</g>

<g id="plan">
<rect x="814" y="2848" width="145" height="48" rx="8" fill="#3d8bf5"/>
<text class="wt" x="886.5" y="2879.5" text-anchor="middle">寒假学习计划</text>
</g>
<g id="plan-1">
<rect class="bb" x="442" y="2096" width="340" height="57" rx="7"/>
<text class="bt"><tspan x="453" y="2120">一、按时作息。早上8 :00起床，晚上9：30--</tspan><tspan x="453" dy="21">--10:00之间这个时间睡觉。</tspan></text>
</g>
<g id="plan-2">
<rect class="bb" x="442" y="2190" width="340" height="99" rx="7"/>
<text class="bt"><tspan x="453" y="2214">二、每天上午、下午各用2个小时认真完成各</tspan><tspan x="453" dy="21">科老师布置的寒假作业，每天至少做五页，尽</tspan><tspan x="453" dy="21">快完成，然后一条心玩，应接新的一年的到来</tspan><tspan x="453" dy="21">，快快乐乐过新年!</tspan></text>
</g>
<g id="plan-3">
<rect class="bb" x="442" y="2324" width="340" height="57" rx="7"/>
<text class="bt"><tspan x="453" y="2348">三、坚持每天课外阅读一小时，并且摘抄好词</tspan><tspan x="453" dy="21">、好句、好段。</tspan></text>
</g>
<g id="plan-4">
<rect class="bb" x="442" y="2417" width="340" height="57" rx="7"/>
<text class="bt"><tspan x="453" y="2441">四、帮助爸爸妈妈做力所能及的事。为家人讲</tspan><tspan x="453" dy="21">笑话或者小故事，给家里带来笑声和快乐。</tspan></text>
</g>
<g id="plan-5">
<rect class="bb" x="470" y="2510" width="312" height="37" rx="7"/>
<text class="bt" x="480" y="2534.5">五、坚持每天在qq空间里写自己的心情。</text>
</g>
<g id="plan-6">
<rect class="bb" x="442" y="2583" width="340" height="56" rx="7"/>
<text class="bt"><tspan x="453" y="2606.5">六、坚持每天在网上玩半小时动脑筋的游戏，</tspan><tspan x="453" dy="21">提高智力。</tspan></text>
</g>
<g id="plan-7">
<rect class="bb" x="442" y="2675" width="340" height="57" rx="7"/>
<text class="bt"><tspan x="453" y="2699">七、坚持每天写一篇日记，记录自己每一天的</tspan><tspan x="453" dy="21">生活。</tspan></text>
</g>
<g id="plan-8">
<rect class="bb" x="458" y="2768" width="324" height="36" rx="7"/>
<text class="bt" x="468" y="2792">八、坚持每周写一篇周记，提高习作水平。</text>
</g>
<g id="plan-9">
<rect class="bb" x="442" y="2840" width="340" height="56" rx="7"/>
<text class="bt"><tspan x="453" y="2863.5">九、由我当导演和主角，策划一次"家庭春节</tspan><tspan x="453" dy="21">联欢会"。</tspan></text>
</g>
<g id="plan-10">
<rect class="bb" x="442" y="3591" width="340" height="56" rx="7"/>
<text class="bt"><tspan x="453" y="3614.5">十、积极参加体育锻炼和社区的各项活动，注</tspan><tspan x="453" dy="21">意安全。</tspan></text>
</g>
<g id="plan-10-1">
<rect class="bb" x="70" y="2933" width="341" height="57" rx="7"/>
<text class="bt"><tspan x="80" y="2957">十一、为新学期定一个学习计划，并准备好必</tspan><tspan x="80" dy="21">备的学习用具。</tspan></text>
</g>
<g id="plan-10-2">
<rect class="bb" x="70" y="3026" width="341" height="140" rx="7"/>
<text class="bt"><tspan x="80" y="3049.5">人的一生中有很多事情这样我们依靠本人的力</tspan><tspan x="80" dy="21">量不能实现的，我们也不可能改变所有的事，</tspan><tspan x="80" dy="21">但考试的'成败确这样真真切切地把握在你手</tspan><tspan x="80" dy="21">中。那就这样努力就一定有收获。这这样多么</tspan><tspan x="80" dy="21">好的一件事呀。在18岁的时候，我们终于可</tspan><tspan x="80" dy="21">以做自己的主，选择自己的生活了。</tspan></text>
</g>
<g id="plan-10-3">
<rect class="bb" x="70" y="3203" width="341" height="98" rx="7"/>
<text class="bt"><tspan x="80" y="3226.5">还有，我们并不孤独。和同学三年同窗，甚至</tspan><tspan x="80" dy="21">更久，在这关键时刻，我们有同样的奋斗目标</tspan><tspan x="80" dy="21">，还有关心我们的老师和家长的陪伴。这种感</tspan><tspan x="80" dy="21">觉这样无比幸福的，所以真的应该好好珍惜。</tspan></text>
</g>
<g id="plan-10-4">
<rect class="bb" x="70" y="3337" width="341" height="78" rx="7"/>
<text class="bt"><tspan x="80" y="3361">说了这么多，希望高三学生能够以愉快的心情</tspan><tspan x="80" dy="21">迎接寒假的到来。另外，给大家提几点复习建</tspan><tspan x="80" dy="21">议。</tspan></text>
</g>
<g id="plan-10-5">
<rect class="bb" x="70" y="3451" width="341" height="56" rx="7"/>
<text class="bt"><tspan x="80" y="3474.5">1、每天学习时间最少保持在7-8小时(上课时</tspan><tspan x="80" dy="21">间包括在内);</tspan></text>
</g>
<g id="plan-10-6">
<rect class="bb" x="70" y="3544" width="341" height="78" rx="7"/>
<text class="bt"><tspan x="80" y="3568">2、学习时间最好固定在：上午8：30-11：3</tspan><tspan x="80" dy="21">0，下午14：30-17：30;晚上19：30-21：3</tspan><tspan x="80" dy="21">0。既不要睡懒觉，也不要开夜车。</tspan></text>
</g>
<g id="plan-10-7">
<rect class="bb" x="70" y="3658" width="341" height="119" rx="7"/>
<text class="bt"><tspan x="80" y="3681.5">3、制定自己的学习计划，但主要这样以保证</tspan><tspan x="80" dy="21">每科的学习时间为主。例如：你数学定的这样</tspan><tspan x="80" dy="21">2个小时，但2小时过后任务还没有完成，建</tspan><tspan x="80" dy="21">议你赶快根据计划更换到其他的复习科目。千</tspan><tspan x="80" dy="21">万不要出现计划总这样赶不上变化的局面。</tspan></text>
</g>
<g id="plan-10-8">
<rect class="bb" x="70" y="3813" width="341" height="79" rx="7"/>
<text class="bt"><tspan x="80" y="3837.5">4、晚上学习的最后一个小时建议把安排设置</tspan><tspan x="80" dy="21">为机动，目的这样把白天没有解决的问题或没</tspan><tspan x="80" dy="21">有完成的任务再找补一下。</tspan></text>
</g>
<g id="plan-10-9">
<rect class="bb" x="70" y="3927" width="341" height="57" rx="7"/>
<text class="bt"><tspan x="80" y="3951">5、每天至少进行三科的复习，文理分开，擅</tspan><tspan x="80" dy="21">长/喜欢和厌恶的科目交叉进行。</tspan></text>
</g>
<g id="plan-10-10">
<rect class="bb" x="70" y="4021" width="341" height="78" rx="7"/>
<text class="bt"><tspan x="80" y="4045">6、不要前赶或后补作业。记住，完成作业不</tspan><tspan x="80" dy="21">这样目的，根据作业查缺补漏，或翻书再复习</tspan><tspan x="80" dy="21">一下薄弱环节才这样根本。</tspan></text>
</g>
<g id="plan-10-11">
<rect class="bb" x="70" y="4135" width="341" height="56" rx="7"/>
<text class="bt"><tspan x="80" y="4158.5">7、有自己解决不了的问题，千万不要死抠或</tspan><tspan x="80" dy="21">置之不理，打电话请教一下老师或同学吧!</tspan></text>
</g>
<g id="plan-10-12">
<rect class="bb" x="70" y="4227" width="341" height="99" rx="7"/>
<text class="bt"><tspan x="80" y="4251">8、每天晚饭前后和父母散散步，既锻炼了身</tspan><tspan x="80" dy="21">体，呼吸了新鲜空气，又增进了沟通。真心的</tspan><tspan x="80" dy="21">希望每个人都能将复习状态调整到最佳，高效</tspan><tspan x="80" dy="21">率、高质量地完成自己的复习计划!</tspan></text>
</g>

<g id="related">
<rect x="615" y="4487" width="344" height="75" rx="8" fill="#7d3be8"/>
<text class="wt"><tspan x="626" y="4517.5">2023年漳州寒假放假时间安排相关</tspan><tspan x="626" dy="28">文章：</tspan></text>
</g>
<g id="related-1">
<rect class="bv" x="403" y="4362" width="179" height="35" rx="6"/>
<text class="nt" x="414" y="4385.5">★ 寒假是什么时候开始</text>
</g>
<g id="related-2">
<rect class="bv" x="377" y="4434" width="205" height="35" rx="6"/>
<text class="nt" x="388" y="4457.5">★ 学校寒假放假通知书7篇</text>
</g>
<g id="related-3">
<rect class="bv" x="403" y="4506" width="179" height="35" rx="6"/>
<text class="nt" x="414" y="4529.5">★ 江西中小学寒假时间</text>
</g>
<g id="related-4">
<rect class="bv" x="306" y="4578" width="276" height="35" rx="6"/>
<text class="nt" x="317" y="4601.5">★ 最新江西中小学寒假放假时间安排</text>
</g>
<g id="related-5">
<rect class="bv" x="419" y="4651" width="163" height="35" rx="6"/>
<text class="nt" x="430" y="4674.5">★ 今年寒假放假时间</text>
</g>
</g>
</svg>
